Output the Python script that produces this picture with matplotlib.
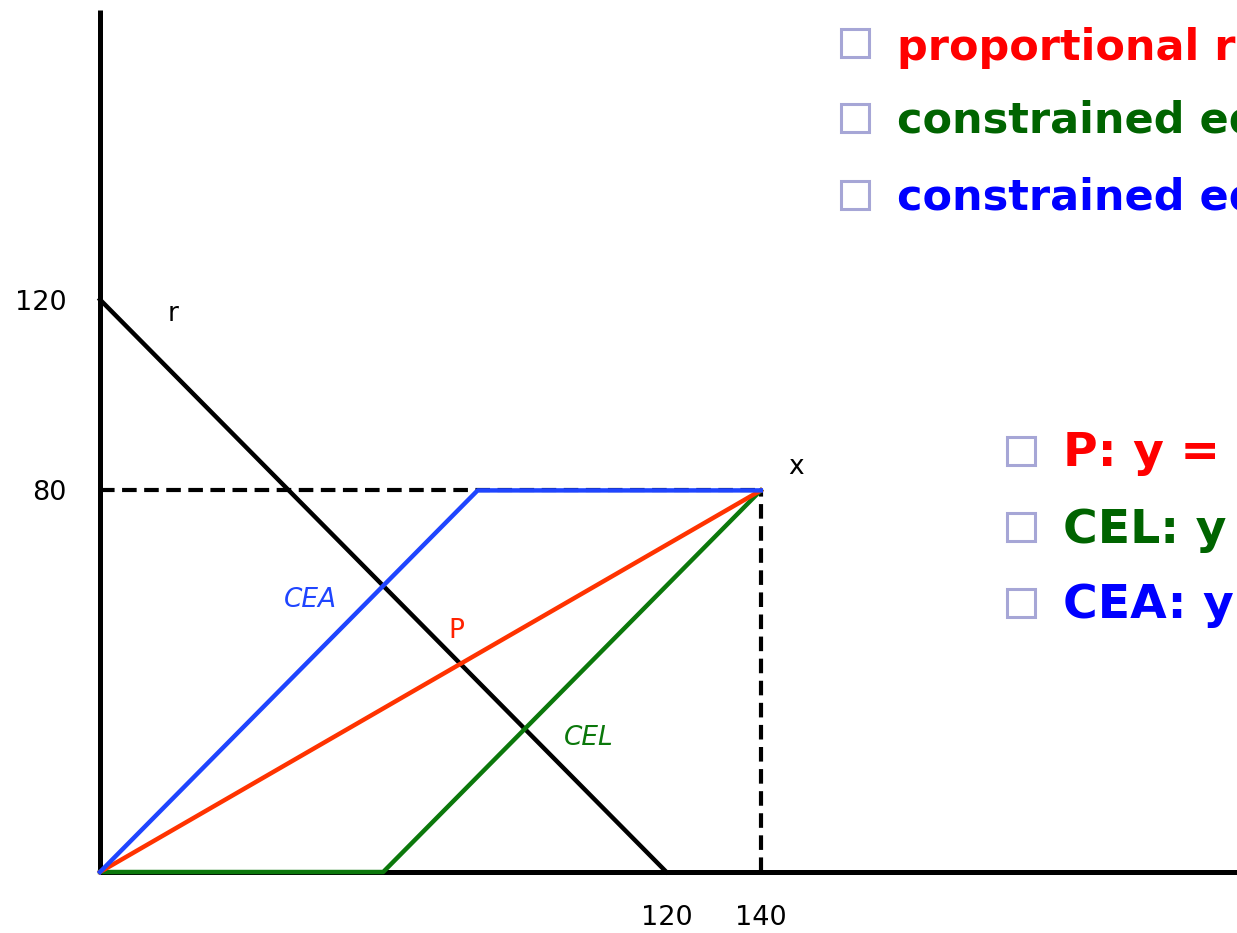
import matplotlib.pyplot as plt

# claims: x = 140, y = 80 ; estate line r
claim_x = 140
claim_y = 80
r_intercept = 120

# award paths for claimant y as the estate grows
p_x = [0, claim_x]
p_y = [0, claim_y]
cea_x = [0, claim_y, claim_x]
cea_y = [0, claim_y, claim_y]
cel_x = [0, claim_x - claim_y, claim_x]
cel_y = [0, 0, claim_y]
r_x = [0, r_intercept]
r_y = [r_intercept, 0]

xticks = [120, 140]
yticks = [80, 120]

rules_top = ['proportional rule', 'constrained equal losses', 'constrained equal awards']
rules_bot = ['P: y = 4r/11', 'CEL: y = (r - 60)/2', 'CEA: y = min(r/2, 80)']
text_colors = ['#ff0000', '#006400', '#0000ff']

W, H = 1237, 933
fig = plt.figure(figsize=(W / 100, H / 100), dpi=100)
# axes corner sits on the origin, runs to the right edge and near the top
ax = fig.add_axes([100 / W, 61 / H, (W - 100) / W, (872 - 10) / H])
ax.set_xlim(0, (W - 100) / 4.72)
ax.set_ylim(0, (872 - 10) / 4.77)

for s in ['top', 'right']:
    ax.spines[s].set_visible(False)
for s in ['left', 'bottom']:
    ax.spines[s].set_linewidth(3.6)
    ax.spines[s].set_capstyle('butt')

ax.set_xticks(xticks)
ax.set_yticks(yticks)
ax.tick_params(length=0, labelsize=19.5)
ax.tick_params(axis='x', pad=24)
ax.tick_params(axis='y', pad=24)

dash = dict(color='black', lw=3, dashes=(3.5, 1.8), zorder=3, clip_on=False)
ax.plot([0, claim_x], [claim_y, claim_y], **dash)
ax.plot([claim_x, claim_x], [0, claim_y], **dash)

ax.plot(r_x, r_y, color='black', lw=3.2, zorder=3, clip_on=False)
ax.plot(cel_x, cel_y, color='#0b780b', lw=3.2, zorder=4, clip_on=False)
ax.plot(p_x, p_y, color='#ff3300', lw=3.2, zorder=4, clip_on=False)
ax.plot(cea_x, cea_y, color='#1f45ff', lw=3.2, zorder=5, clip_on=False)

ax.text(15.5, 117, 'r', fontsize=19, ha='center', va='center')
ax.text(147.5, 85, 'x', fontsize=19, ha='center', va='center')
ax.text(44.5, 57, 'CEA', fontsize=19, style='italic', color='#1f45ff', ha='center', va='center')
ax.text(75.5, 50.5, 'P', fontsize=19, color='#ff2200', ha='center', va='center')
ax.text(103.5, 28, 'CEL', fontsize=19, style='italic', color='#0b780b', ha='center', va='center')

def fx(px):
    return px / W

def fy(py):
    return 1 - py / H

bullet = dict(marker='s', ms=20, mfc='none', mec='#a6a6d6', mew=2.2, ls='none')
for i, (txt, col) in enumerate(zip(rules_top, text_colors)):
    fig.add_artist(plt.Line2D([fx(855)], [fy([43, 118, 195][i])], **bullet))
    fig.text(fx(897), fy([60, 133, 210][i]), txt, color=col, fontsize=31,
             fontweight='bold', va='baseline')
for i, (txt, col) in enumerate(zip(rules_bot, text_colors)):
    fig.add_artist(plt.Line2D([fx(1021)], [fy([451, 527, 603][i])], **bullet))
    fig.text(fx(1063), fy([466, 543, 618][i]), txt, color=col, fontsize=34,
             fontweight='bold', va='baseline')

fig.savefig('out.png', dpi=100)
